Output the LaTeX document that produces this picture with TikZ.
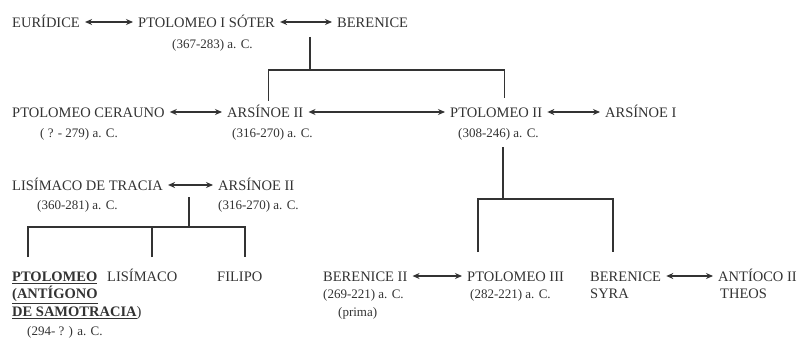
\documentclass[tikz,border=0pt]{standalone}
\usepackage{fontspec}
\setmainfont{Liberation Serif}
\usetikzlibrary{positioning}
\usetikzlibrary{arrows.meta}
\usetikzlibrary{calc}
\definecolor{ink}{HTML}{333333}
\tikzset{
    person/.style={anchor=west, inner xsep=0pt, inner ysep=2pt, text=ink,
        text height=10.5pt, text depth=0pt, font=\fontsize{14.5}{16}\selectfont},
    years/.style={person, font=\fontsize{13}{15}\selectfont},
    wed/.style={{Stealth[length=7pt,width=6pt]}-{Stealth[length=7pt,width=6pt]},
        draw=ink, line width=1.3pt, shorten >=5pt, shorten <=5pt},
    stem/.style={draw=ink, line width=1.3pt},
}
\begin{document}
\begin{tikzpicture}[x=1pt, y=-1pt]
    \useasboundingbox[fill=white] (0,0) rectangle (802,337);

    \node[person] (E) at (12,22) {EURÍDICE};
    \node[person] (P1) at (138,22) {PTOLOMEO I SÓTER};
    \node[years] (P1d) at (172,43) {(367-283) a. C.};
    \node[person] (B1) at (337,22) {BERENICE};

    \node[person] (PC) at (12,112) {PTOLOMEO CERAUNO};
    \node[years] (PCd) at (40,132) {( ? - 279) a. C.};
    \node[person] (A2) at (227,112) {ARSÍNOE II};
    \node[years] (A2d) at (232,132) {(316-270) a. C.};
    \node[person] (P2) at (450,112) {PTOLOMEO II};
    \node[years] (P2d) at (458,132) {(308-246) a. C.};
    \node[person] (A1) at (605,112) {ARSÍNOE I};

    \node[person] (LT) at (12,185) {LISÍMACO DE TRACIA};
    \node[years] (LTd) at (37,204) {(360-281) a. C.};
    \node[person] (A2b) at (218,185) {ARSÍNOE II};
    \node[years] (A2bd) at (218,204) {(316-270) a. C.};

    \node[person] (PA) at (12,276) {\textbf{\underline{PTOLOMEO}}};
    \node[person] (PAa) at (12,293) {\textbf{\underline{(ANTÍGONO}}};
    \node[person] (PAb) at (12,311) {\textbf{\underline{DE SAMOTRACIA}})};
    \node[years] (PAd) at (27,330) {(294- ? ) a. C.};
    \node[person] (L) at (107,276) {LISÍMACO};
    \node[person] (F) at (217,276) {FILIPO};

    \node[person] (B2) at (323,276) {BERENICE II};
    \node[years] (B2d) at (323,293) {(269-221) a. C.};
    \node[years] (B2p) at (338,311) {(prima)};
    \node[person] (P3) at (467,276) {PTOLOMEO III};
    \node[years] (P3d) at (470,293) {(282-221) a. C.};
    \node[person] (BS) at (590,276) {BERENICE};
    \node[person] (BSa) at (590,293) {SYRA};
    \node[person] (AT) at (718,276) {ANTÍOCO II};
    \node[person] (ATa) at (720,293) {THEOS};

    \draw[wed] (E) -- (P1);
    \draw[wed] (P1) -- (B1);
    \draw[wed] (PC) -- (A2);
    \draw[wed] (A2) -- (P2);
    \draw[wed] (P2) -- (A1);
    \draw[wed] (LT) -- (A2b);
    \draw[wed] (B2) -- (P3);
    \draw[wed] (BS) -- (AT);

    \coordinate (j1) at (310,37);
    \draw[stem] (j1) -- ++(0,33) coordinate (k1);
    \draw[stem] ($(A2.north)+(3,-4)$) |- (k1) -| ($(P2.north)+(8,-7)$);

    \coordinate (j2) at (503,147);
    \draw[stem] (j2) -- ++(0,52) coordinate (k2);
    \coordinate (c3) at (478,252);
    \coordinate (cs) at (613,252);
    \draw[stem] (c3) |- (k2) -| (cs);

    \coordinate (j3) at (189,197);
    \draw[stem] (j3) -- ++(0,30) coordinate (k3);
    \coordinate (cp) at (28,257);
    \coordinate (cl) at (152,257);
    \coordinate (cf) at (245,257);
    \draw[stem] (cp) |- (k3) -| (cf);
    \draw[stem] (cl) -- (cl |- k3);
\end{tikzpicture}
\end{document}
